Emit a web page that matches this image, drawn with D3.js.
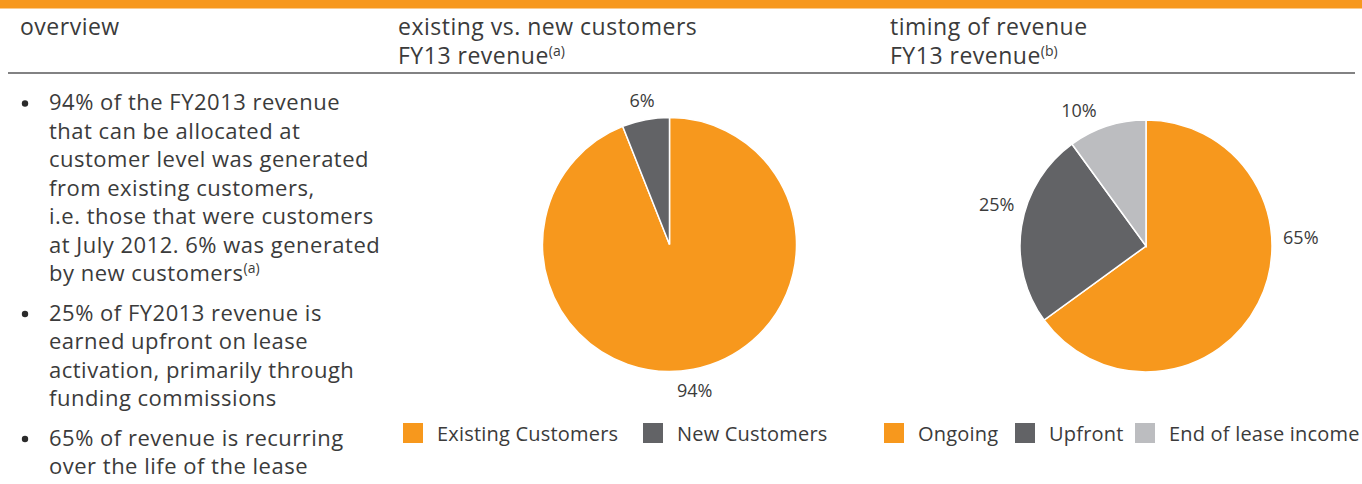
<!DOCTYPE html>
<html>
<head>
<meta charset="utf-8">
<script src="https://cdn.jsdelivr.net/npm/d3@7"></script>
<style>
  body { margin: 0; background: #fff; }
  text { font-family: "Open Sans", Lato, sans-serif; fill: #3b3b3b; }
</style>
</head>
<body>
<svg id="chart"></svg>
<script>
// data
var customerLabels = ["Existing Customers", "New Customers"];
var customerShares = [94, 6];
var timingLabels = ["Ongoing", "Upfront", "End of lease income"];
var timingShares = [65, 25, 10];
var sliceColors = ["#f7981d", "#626366", "#bcbdc0"];

var headings = ["overview", "existing vs. new customers", "timing of revenue"];
var subHeadings = ["", "FY13 revenue", "FY13 revenue"];
var subNotes = ["", "(a)", "(b)"];

var bullets = [
  { lines: ["94% of the FY2013 revenue", "that can be allocated at", "customer level was generated",
            "from existing customers,", "i.e. those that were customers", "at July 2012. 6% was generated",
            "by new customers"], note: "(a)" },
  { lines: ["25% of FY2013 revenue is", "earned upfront on lease", "activation, primarily through",
            "funding commissions"], note: "" },
  { lines: ["65% of revenue is recurring", "over the life of the lease"], note: "" }
];

var width = 1362, height = 484;

var svg = d3.select("#chart")
  .attr("width", width)
  .attr("height", height);

// top band and rule
svg.append("rect")
  .attr("x", 0).attr("y", 0)
  .attr("width", width).attr("height", 8.5)
  .attr("fill", "#f7981d");
svg.append("line")
  .attr("x1", 8).attr("x2", 1355)
  .attr("y1", 73).attr("y2", 73)
  .attr("stroke", "#58585a")
  .attr("stroke-width", 1.6);

// column headings
var colX = [20, 398, 890];
headings.forEach(function(h, i) {
  svg.append("text")
    .attr("x", colX[i]).attr("y", 35)
    .style("font-size", "23px")
    .style("letter-spacing", "0.5px")
    .text(h);
  if (subHeadings[i]) {
    var t = svg.append("text")
      .attr("x", colX[i]).attr("y", 64)
      .style("font-size", "23px")
      .style("letter-spacing", "0.5px")
      .text(subHeadings[i]);
    t.append("tspan")
      .attr("dy", -8)
      .style("font-size", "14px")
      .style("letter-spacing", "0")
      .text(subNotes[i]);
  }
});

// overview bullets
var lineStep = 28.5, paraGap = 39.5;
var yPos = 110;
bullets.forEach(function(b) {
  svg.append("circle")
    .attr("cx", 25).attr("cy", yPos - 6.5)
    .attr("r", 3.2)
    .attr("fill", "#2b2b2b");
  b.lines.forEach(function(l, j) {
    var t = svg.append("text")
      .attr("x", 49).attr("y", yPos)
      .style("font-size", "22px")
      .style("letter-spacing", "0.5px")
      .text(l);
    if (j === b.lines.length - 1 && b.note) {
      t.append("tspan")
        .attr("dy", -8)
        .style("font-size", "14px")
        .style("letter-spacing", "0")
        .text(b.note);
    }
    if (j < b.lines.length - 1) yPos += lineStep;
  });
  yPos += paraGap;
});

// pies
var pie = d3.pie().sort(null).value(function(d) { return d; });

function drawPie(opts) {
  var g = svg.append("g")
    .attr("transform", "translate(" + opts.cx + "," + opts.cy + ")");
  var arc = d3.arc().innerRadius(0).outerRadius(opts.r);
  var arcs = pie(opts.values);

  g.selectAll("path")
    .data(arcs)
    .enter().append("path")
      .attr("d", arc)
      .attr("fill", function(d, i) { return sliceColors[i]; })
      .attr("stroke", "#fff")
      .attr("stroke-width", 1.5);

  g.selectAll("text")
    .data(arcs)
    .enter().append("text")
      .attr("text-anchor", "middle")
      .attr("dy", "0.36em")
      .style("font-size", "18px")
      .attr("x", function(d, i) {
        var a = (d.startAngle + d.endAngle) / 2 + opts.nudge[i] * Math.PI / 180;
        return Math.sin(a) * opts.labelR[i];
      })
      .attr("y", function(d, i) {
        var a = (d.startAngle + d.endAngle) / 2 + opts.nudge[i] * Math.PI / 180;
        return -Math.cos(a) * opts.labelR[i];
      })
      .text(function(d) { return d.data + "%"; });

  // legend
  var lg = svg.append("g")
    .attr("transform", "translate(" + opts.legendX + ",423)");
  var lx = 0;
  opts.labels.forEach(function(name, i) {
    lg.append("rect")
      .attr("x", lx).attr("y", 0)
      .attr("width", 20).attr("height", 20)
      .attr("fill", sliceColors[i]);
    lg.append("text")
      .attr("x", lx + 34).attr("y", 18)
      .style("font-size", "20px")
      .style("letter-spacing", "0.2px")
      .text(name);
    lx += opts.legendStep[i];
  });
}

drawPie({ cx: 669.5, cy: 244.5, r: 127, values: customerShares, labels: customerLabels,
          nudge: [1, 0], labelR: [148, 147], legendX: 403, legendStep: [240] });
drawPie({ cx: 1146, cy: 246, r: 126, values: timingShares, labels: timingLabels,
          nudge: [-30, 6.6, -8.4], labelR: [155, 155, 151], legendX: 884, legendStep: [131, 120] });
</script>
</body>
</html>
